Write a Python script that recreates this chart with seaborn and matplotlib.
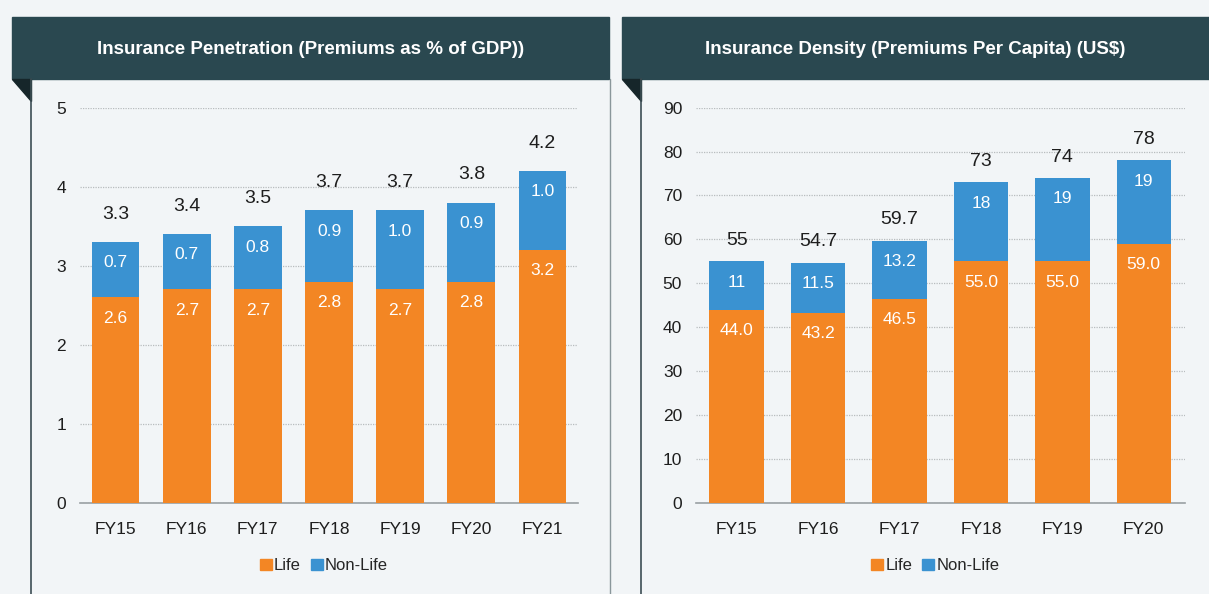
import matplotlib
matplotlib.use("Agg")
import matplotlib.pyplot as plt
from matplotlib.patches import Rectangle, Polygon, Patch
from matplotlib.lines import Line2D
import seaborn as sns

years_pen = ['FY15', 'FY16', 'FY17', 'FY18', 'FY19', 'FY20', 'FY21']
life_pen = [2.6, 2.7, 2.7, 2.8, 2.7, 2.8, 3.2]
nonlife_pen = [0.7, 0.7, 0.8, 0.9, 1.0, 0.9, 1.0]
total_pen = [3.3, 3.4, 3.5, 3.7, 3.7, 3.8, 4.2]

years_den = ['FY15', 'FY16', 'FY17', 'FY18', 'FY19', 'FY20']
life_den = [44.0, 43.2, 46.5, 55.0, 55.0, 59.0]
nonlife_den = [11, 11.5, 13.2, 18, 19, 19]
total_den = [55, 54.7, 59.7, 73, 74, 78]
life_den_lbl = ['44.0', '43.2', '46.5', '55.0', '55.0', '59.0']
nonlife_den_lbl = ['11', '11.5', '13.2', '18', '19', '19']
total_den_lbl = ['55', '54.7', '59.7', '73', '74', '78']

ORANGE = '#F38624'
BLUE = '#3A92D1'
HEADER = '#2A4850'
BG = '#F2F5F7'
TXT = '#1E1E1E'

sns.set_theme(style='white')
plt.rcParams['font.family'] = ['Liberation Sans', 'DejaVu Sans']

W, H = 1209, 594
fig = plt.figure(figsize=(W / 100, H / 100), dpi=100, facecolor=BG)


def fx(px):
    return px / W


def fy(py):
    return 1 - py / H


# panel decorations (header bars, borders, folded corners)
def panel(x0, x1, xb, title):
    fig.patches.append(Rectangle((fx(x0), fy(79)), fx(x1 - x0), fy(17) - fy(79),
                                 transform=fig.transFigure, color=HEADER, zorder=0))
    fig.patches.append(Polygon([(fx(x0), fy(79)), (fx(xb), fy(79)), (fx(xb), fy(101))],
                               closed=True, transform=fig.transFigure, color='#16262A', zorder=0))
    fig.lines.append(Line2D([fx(xb), fx(xb)], [fy(79), 0], transform=fig.transFigure,
                            color='#3C4E54', lw=1.2))
    fig.text(fx((x0 + x1) / 2), fy(49), title, color='white', fontsize=13.5,
             fontweight='bold', ha='center', va='center')


panel(12, 609, 31, 'Insurance Penetration (Premiums as % of GDP))')
panel(622, 1209, 641, 'Insurance Density (Premiums Per Capita) (US$)')
fig.lines.append(Line2D([fx(610), fx(610)], [fy(79), 0], transform=fig.transFigure,
                        color='#8A979B', lw=1.0))


def draw(ax, years, life, nonlife, total, life_lbl, non_lbl, tot_lbl, ymax, step, top_off):
    ax.set_facecolor(BG)
    sns.barplot(x=years, y=total, color=BLUE, saturation=1, width=0.67, ax=ax,
                zorder=2, linewidth=0)
    sns.barplot(x=years, y=life, color=ORANGE, saturation=1, width=0.67, ax=ax,
                zorder=3, linewidth=0)
    for i in range(len(years)):
        ax.annotate(tot_lbl[i], (i, total[i]), xytext=(0, top_off), textcoords='offset points',
                    ha='center', va='center', fontsize=14, color=TXT)
        ax.annotate(non_lbl[i], (i, total[i]), xytext=(0, -15), textcoords='offset points',
                    ha='center', va='center', fontsize=12.5, color='white', zorder=5)
        ax.annotate(life_lbl[i], (i, life[i]), xytext=(0, -15), textcoords='offset points',
                    ha='center', va='center', fontsize=12.5, color='white', zorder=5)
    ax.set_ylim(0, ymax)
    ax.set_yticks(range(0, ymax + 1, step))
    ax.set_xlim(-0.5, len(years) - 0.5)
    ax.set_xticks([i - 0.5 for i in range(len(years) + 1)], minor=True)
    ax.tick_params(axis='x', which='major', length=0, pad=14, labelsize=12.5, colors=TXT)
    ax.tick_params(axis='x', which='minor', length=5, width=1, color='#9AA0A3', direction='out')
    ax.tick_params(axis='y', length=0, pad=10, labelsize=12.5, colors=TXT)
    ax.yaxis.grid(True, linestyle=(0, (1, 1)), color='#B8BCBE', lw=0.9, zorder=0)
    ax.set_axisbelow(True)
    for s in ['top', 'right', 'left']:
        ax.spines[s].set_visible(False)
    ax.spines['bottom'].set_color('#9AA0A3')
    ax.spines['bottom'].set_linewidth(1.2)
    ax.set_xlabel('')
    ax.set_ylabel('')
    handles = [Patch(color=ORANGE, label='Life'), Patch(color=BLUE, label='Non-Life')]
    ax.legend(handles=handles, loc='center', bbox_to_anchor=(0.49, -0.16), ncol=2, frameon=False,
              fontsize=12, handlelength=0.7, handleheight=0.7, handletextpad=0.15,
              columnspacing=0.6)


ax1 = fig.add_axes([fx(80), fy(502.7), fx(498), fy(107.7) - fy(502.7)])
draw(ax1, years_pen, life_pen, nonlife_pen, total_pen,
     [f'{v:.1f}' for v in life_pen], [f'{v:.1f}' for v in nonlife_pen],
     [f'{v:.1f}' for v in total_pen], 5, 1, 20)

ax2 = fig.add_axes([fx(696), fy(502.7), fx(488.5), fy(107.7) - fy(502.7)])
draw(ax2, years_den, life_den, nonlife_den, total_den,
     life_den_lbl, nonlife_den_lbl, total_den_lbl, 90, 10, 15)

fig.savefig('out.png', dpi=100, facecolor=BG)
